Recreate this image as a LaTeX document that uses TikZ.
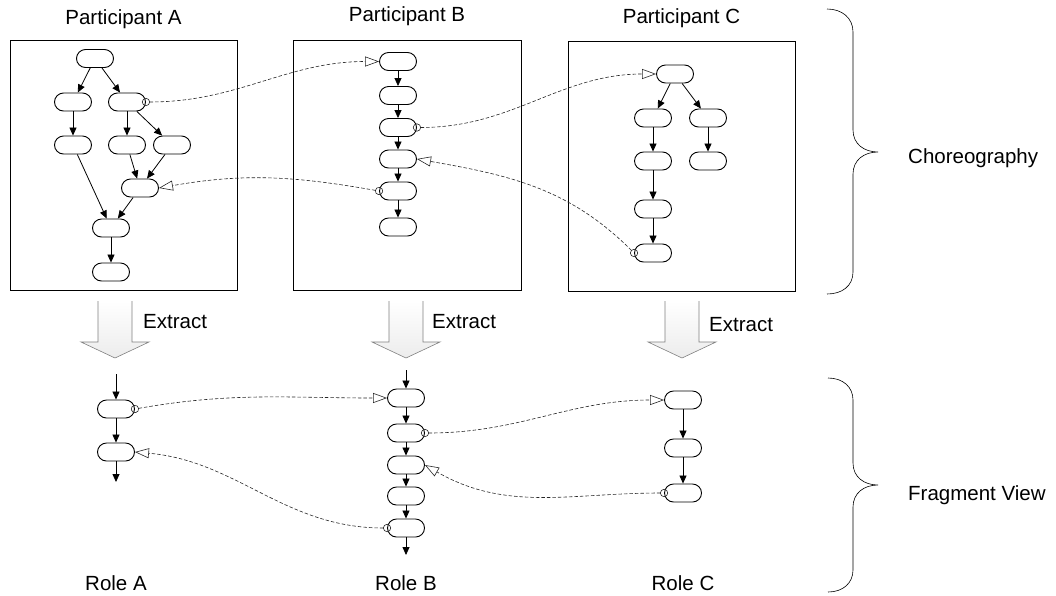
\documentclass[tikz,border=0pt]{standalone}
\usepackage{fontspec}
\setmainfont{Liberation Sans}
\usetikzlibrary{arrows.meta}
\tikzset{
 task/.style={draw, rounded corners=9pt, minimum width=37pt, minimum height=18pt, inner sep=0pt, line width=0.9pt},
 flow/.style={-{Triangle[length=8pt,width=7pt]}, line width=0.8pt},
 msg/.style={draw=black!85, line width=0.6pt, dash pattern=on 3.5pt off 2pt, {Circle[open,length=8pt,line width=0.6pt]}-{Triangle[open,length=14pt,width=10pt,line width=0.6pt]}, shorten <=-4pt},
 partbox/.style={draw, line width=0.8pt, minimum height=250pt, inner sep=0pt},
 lbl/.style={font=\fontsize{20.5}{24}\selectfont, anchor=base, inner sep=0pt},
 extract/.style={draw=gray, top color=white, bottom color=gray!15, line width=0.6pt},
 brace/.style={line width=0.6pt}
}
\begin{document}
\begin{tikzpicture}[x=1pt, y=1pt]
\useasboundingbox (0,0) rectangle (1056,-595);

 \node[partbox, minimum width=227pt] (boxA) at (123.5,-165) {};
 \node[partbox, minimum width=228pt] (boxB) at (407,-165) {};
 \node[partbox, minimum width=227pt] (boxC) at (681.5,-166) {};
 \node[lbl] (partA) at (123.5,-24) {Participant A};
 \node[lbl] (partB) at (407,-21) {Participant B};
 \node[lbl] (partC) at (681.5,-23) {Participant C};

 \node[task] (a1) at (95,-58.5) {};
 \node[task] (a2) at (73,-102) {};
 \node[task] (a3) at (127,-102) {};
 \node[task] (a4) at (73,-145) {};
 \node[task] (a5) at (127,-145) {};
 \node[task] (a6) at (172,-145) {};
 \node[task] (a7) at (140,-188) {};
 \node[task] (a8) at (111,-228) {};
 \node[task] (a9) at (111,-272) {};
\foreach \s/\t in {a1/a2,a1/a3,a2/a4,a3/a5,a3/a6,a4/a8,a5/a7,a6/a7,a7/a8,a8/a9}
 \draw[flow] (\s) -- (\t);

 \node[task] (b1) at (398,-61.5) {};
 \node[task] (b2) at (398,-95.5) {};
 \node[task] (b3) at (398,-127.5) {};
 \node[task] (b4) at (398,-159) {};
 \node[task] (b5) at (398,-191) {};
 \node[task] (b6) at (398,-227) {};
\foreach \s/\t in {b1/b2,b2/b3,b3/b4,b4/b5,b5/b6}
 \draw[flow] (\s) -- (\t);

 \node[task] (c1) at (675,-74) {};
 \node[task] (c2) at (653,-118) {};
 \node[task] (c3) at (708,-118) {};
 \node[task] (c4) at (653,-161) {};
 \node[task] (c5) at (708,-161) {};
 \node[task] (c6) at (653,-209) {};
 \node[task] (c7) at (653,-253) {};
\foreach \s/\t in {c1/c2,c1/c3,c2/c4,c3/c5,c4/c6,c6/c7}
 \draw[flow] (\s) -- (\t);

\draw[msg] (a3.east) to[out=0, in=180] (b1.west);
\draw[msg] (b3.east) to[out=0, in=180] (c1.west);
\draw[msg] (c7.west) to[out=135, in=-10] (b4.east);
\draw[msg] (b5.west) to[out=170, in=10] (a7.east);

\foreach \x in {115,406,682}
 \path[extract] (\x-17,-301) -- (\x-17,-342) -- (\x-34,-342) -- (\x,-358) -- (\x+34,-342) -- (\x+17,-342) -- (\x+17,-301);
 \node[lbl, anchor=base west] (exA) at (143,-328) {Extract};
 \node[lbl, anchor=base west] (exB) at (432,-328) {Extract};
 \node[lbl, anchor=base west] (exC) at (709,-331) {Extract};

 \coordinate (fain) at (116,-374);
 \node[task] (fa1) at (116,-409) {};
 \node[task] (fa2) at (116,-452) {};
 \coordinate (faout) at (116,-482);
\draw[flow] (fain) -- (fa1);
\draw[flow] (fa1) -- (fa2);
\draw[flow] (fa2) -- (faout);

 \coordinate (fbin) at (406,-370);
 \node[task] (fb1) at (406,-398) {};
 \node[task] (fb2) at (406,-433) {};
 \node[task] (fb3) at (406,-465) {};
 \node[task] (fb4) at (406,-496) {};
 \node[task] (fb5) at (406,-528) {};
 \coordinate (fbout) at (406,-555);
\foreach \s/\t in {fbin/fb1,fb1/fb2,fb2/fb3,fb3/fb4,fb4/fb5,fb5/fbout}
 \draw[flow] (\s) -- (\t);

 \node[task] (fc1) at (683,-400) {};
 \node[task] (fc2) at (683,-448) {};
 \node[task] (fc3) at (683,-493) {};
\draw[flow] (fc1) -- (fc2);
\draw[flow] (fc2) -- (fc3);

\draw[msg] (fa1.east) to[out=10, in=180] (fb1.west);
\draw[msg] (fb2.east) to[out=0, in=180] (fc1.west);
\draw[msg] (fc3.west) to[out=180, in=-30] (fb3.east);
\draw[msg] (fb5.west) to[out=180, in=-5] (fa2.east);

 \node[lbl] (roleA) at (116,-590) {Role A};
 \node[lbl] (roleB) at (406,-590) {Role B};
 \node[lbl] (roleC) at (683,-590) {Role C};

\draw[brace] (827,-9) .. controls (842,-9) and (853,-18) .. (853,-32) -- (853,-130)
 .. controls (853,-144) and (864,-152) .. (878,-152) .. controls (864,-152) and (853,-160) .. (853,-174)
 -- (853,-272) .. controls (853,-286) and (842,-294) .. (827,-294);
\draw[brace] (828,-378) .. controls (843,-378) and (853,-387) .. (853,-400) -- (853,-463)
 .. controls (853,-477) and (864,-485) .. (878,-485) .. controls (864,-485) and (853,-493) .. (853,-507)
 -- (853,-570) .. controls (853,-583) and (843,-592) .. (828,-592);
 \node[lbl, anchor=base west] (chor) at (908,-163) {Choreography};
 \node[lbl, anchor=base west] (frag) at (908,-500) {Fragment View};
 \end{tikzpicture}
\end{document}
